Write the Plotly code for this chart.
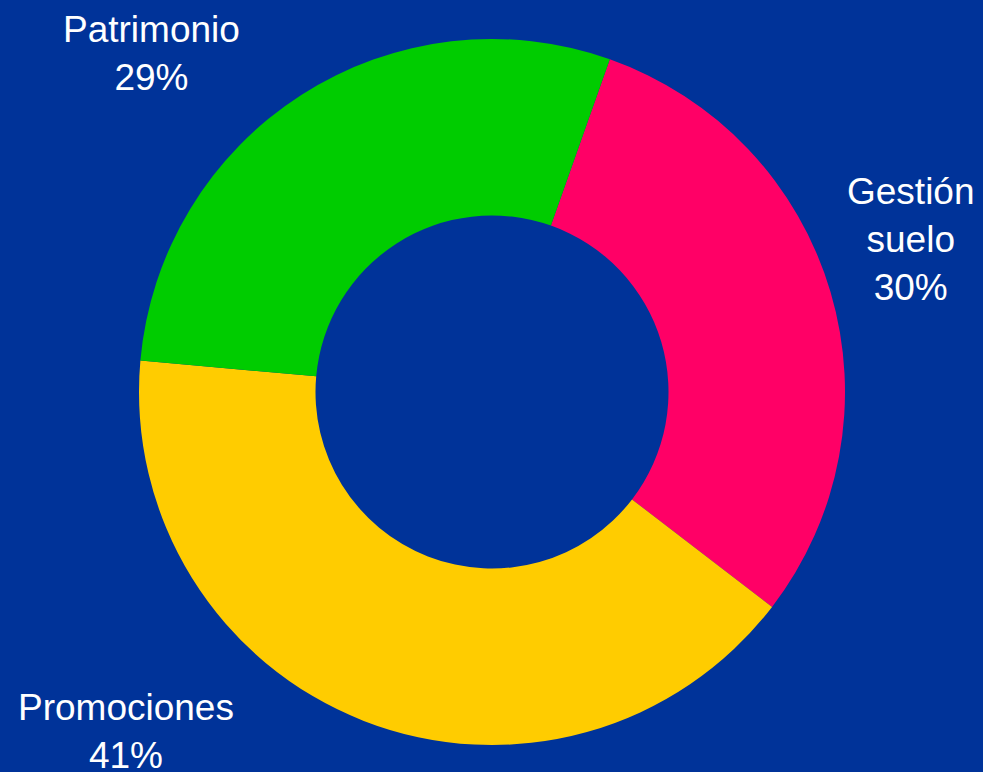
import plotly.graph_objects as go

labels = ["Gestión suelo", "Promociones", "Patrimonio"]
label_text = ["Gestión<br>suelo", "Promociones", "Patrimonio"]
values = [30, 41, 29]
colors = ["#FF0066", "#FFCC00", "#00CC00"]

W, H = 983, 772
BG = "#003399"

# label anchor positions (pixels from top-left)
label_pos = [(911, 239), (126, 731), (151, 53)]

cx, cy, r = 492, 392, 353

fig = go.Figure(go.Pie(
    labels=labels,
    values=values,
    marker=dict(colors=colors, line=dict(width=0)),
    hole=0.5,
    sort=False,
    direction="clockwise",
    rotation=19.5,
    textinfo="none",
    hoverinfo="label+percent",
    domain=dict(x=[(cx - 360) / W, (cx + 360) / W],
                y=[(H - (cy + r)) / H, (H - (cy - r)) / H]),
))

for txt, v, (px, py) in zip(label_text, values, label_pos):
    fig.add_annotation(
        x=px / W, y=1 - py / H, xref="paper", yref="paper",
        text=f"{txt}<br>{v}%", showarrow=False,
        xanchor="center", yanchor="middle", align="center",
        font=dict(family="Liberation Sans, Arial, sans-serif", size=37, color="white"),
    )

fig.update_layout(
    width=W, height=H,
    margin=dict(l=0, r=0, t=0, b=0),
    paper_bgcolor=BG, plot_bgcolor=BG,
    showlegend=False,
)

fig.write_html(
    "out.html",
    config={"displayModeBar": False},
    post_script="document.body.style.margin='0';document.body.style.overflow='hidden';document.body.style.background='" + BG + "';",
)
